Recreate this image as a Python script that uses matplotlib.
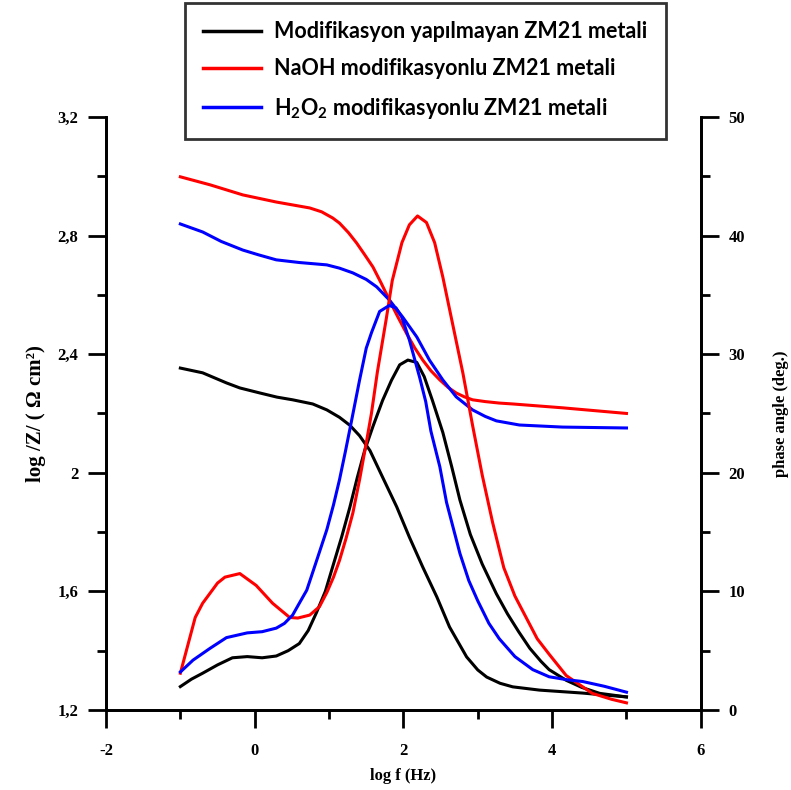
import matplotlib
matplotlib.use("Agg")
import matplotlib.pyplot as plt
from matplotlib.ticker import MultipleLocator, FuncFormatter

# log f values and readings
# --- |Z| curves (left axis)
z_black_f = [-1.0, -0.7, -0.38, -0.2, 0.07, 0.3, 0.51, 0.78, 0.97, 1.14, 1.28, 1.41, 1.55, 1.72,
             1.91, 2.08, 2.26, 2.45, 2.62, 2.85, 3.0, 3.12, 3.3, 3.47, 3.83, 4.41, 5.0]
z_black = [2.353, 2.337, 2.303, 2.286, 2.269, 2.255, 2.246, 2.232, 2.212, 2.187, 2.16, 2.125, 2.075, 1.985,
           1.885, 1.783, 1.682, 1.581, 1.48, 1.379, 1.335, 1.311, 1.29, 1.278, 1.267, 1.257, 1.244]

z_red_f = [-1.0, -0.6, -0.16, 0.29, 0.74, 0.9, 1.05, 1.14, 1.26, 1.37, 1.48, 1.59, 1.7, 1.81,
           1.92, 2.04, 2.15, 2.26, 2.37, 2.49, 2.6, 2.71, 2.82, 2.93, 3.1, 3.29, 3.47, 4.14, 5.0]
z_red = [2.998, 2.971, 2.937, 2.913, 2.893, 2.88, 2.859, 2.842, 2.81, 2.775, 2.735, 2.694, 2.64, 2.583,
         2.528, 2.471, 2.422, 2.38, 2.344, 2.313, 2.288, 2.269, 2.256, 2.246, 2.24, 2.235, 2.232, 2.219, 2.20]

z_blue_f = [-1.0, -0.7, -0.45, -0.16, 0.05, 0.29, 0.6, 0.97, 1.14, 1.32, 1.5, 1.64, 1.81, 1.99,
            2.18, 2.35, 2.53, 2.71, 2.93, 3.1, 3.25, 3.56, 4.14, 5.0]
z_blue = [2.839, 2.812, 2.78, 2.751, 2.735, 2.718, 2.709, 2.701, 2.69, 2.674, 2.652, 2.627, 2.583, 2.525,
          2.458, 2.38, 2.313, 2.256, 2.212, 2.19, 2.175, 2.161, 2.154, 2.151]

# --- phase angle curves (right axis)
p_black_f = [-1.0, -0.85, -0.7, -0.5, -0.3, -0.1, 0.1, 0.29, 0.45, 0.6, 0.72, 0.83, 0.95, 1.05,
             1.17, 1.28, 1.38, 1.48, 1.59, 1.72, 1.84, 1.95, 2.06, 2.18, 2.28, 2.39, 2.53, 2.65,
             2.76, 2.9, 3.06, 3.25, 3.4, 3.55, 3.7, 3.85, 3.96, 4.19, 4.4, 4.64, 5.0]
p_black = [1.97, 2.6, 3.1, 3.8, 4.4, 4.5, 4.4, 4.55, 5.0, 5.6, 6.7, 8.2, 10.0, 12.1,
           14.6, 17.1, 19.6, 21.9, 23.9, 26.1, 27.8, 29.1, 29.5, 29.3, 28.1, 26.1, 23.4, 20.5,
           17.7, 14.8, 12.3, 9.8, 8.1, 6.6, 5.2, 4.1, 3.4, 2.5, 1.9, 1.4, 1.1]

p_red_f = [-1.0, -0.8, -0.7, -0.5, -0.4, -0.2, 0.02, 0.24, 0.47, 0.58, 0.74, 0.87, 0.97, 1.06,
           1.14, 1.23, 1.32, 1.41, 1.5, 1.57, 1.65, 1.77, 1.85, 1.98, 2.08, 2.19, 2.31, 2.42,
           2.53, 2.66, 2.8, 2.93, 3.06, 3.2, 3.35, 3.5, 3.65, 3.8, 3.96, 4.19, 4.54, 4.8, 5.0]
p_red = [3.1, 7.8, 9.0, 10.7, 11.2, 11.5, 10.5, 9.0, 7.8, 7.75, 8.0, 8.7, 9.9, 11.2,
         12.6, 14.5, 16.6, 19.4, 22.5, 25.0, 28.5, 33.0, 36.2, 39.4, 40.9, 41.65, 41.1, 39.4,
         36.5, 32.6, 28.4, 24.0, 19.8, 15.8, 12.0, 9.6, 7.8, 6.0, 4.7, 2.9, 1.4, 0.9, 0.6]

p_blue_f = [-1.0, -0.83, -0.6, -0.38, -0.1, 0.1, 0.29, 0.4, 0.51, 0.6, 0.7, 0.78, 0.87, 0.97,
            1.06, 1.14, 1.22, 1.3, 1.41, 1.5, 1.57, 1.68, 1.81, 1.9, 1.98, 2.08, 2.22, 2.3,
            2.37, 2.49, 2.58, 2.76, 2.88, 3.0, 3.15, 3.29, 3.5, 3.74, 3.96, 4.2, 4.41, 4.7, 5.0]
p_blue = [3.2, 4.2, 5.2, 6.1, 6.5, 6.6, 6.9, 7.3, 8.0, 9.0, 10.1, 11.6, 13.3, 15.2,
          17.3, 19.4, 21.8, 24.3, 27.8, 30.5, 31.8, 33.6, 34.1, 33.9, 33.1, 31.2, 28.0, 26.0,
          23.5, 20.5, 17.5, 13.2, 10.9, 9.2, 7.3, 6.0, 4.5, 3.4, 2.8, 2.55, 2.4, 2.0, 1.5]

labels = ["Modifikasyon yapılmayan ZM21 metali",
          "NaOH modifikasyonlu ZM21 metali",
          "H$_2$O$_2$ modifikasyonlu ZM21 metali"]

plt.rcParams["mathtext.fontset"] = "custom"
plt.rcParams["mathtext.rm"] = "Lato:bold"
plt.rcParams["mathtext.default"] = "rm"
plt.rcParams["axes.unicode_minus"] = False

serif = "Liberation Serif"
lw = 2.2

fig = plt.figure(figsize=(7.91, 7.90), dpi=100)
ax = fig.add_axes([0.134, 0.1013, 0.752, 0.7507])
ax2 = ax.twinx()

l1, = ax.plot(z_black_f, z_black, color="black", lw=lw, label=labels[0])
l2, = ax.plot(z_red_f, z_red, color="red", lw=lw, label=labels[1])
l3, = ax.plot(z_blue_f, z_blue, color="blue", lw=lw, label=labels[2])
ax2.plot(p_black_f, p_black, color="black", lw=lw)
ax2.plot(p_red_f, p_red, color="red", lw=lw)
ax2.plot(p_blue_f, p_blue, color="blue", lw=lw)

ax.set_xlim(-2, 6)
ax.set_ylim(1.2, 3.2)
ax2.set_ylim(0, 50)

ax.xaxis.set_major_locator(MultipleLocator(2))
ax.xaxis.set_minor_locator(MultipleLocator(1))
ax.yaxis.set_major_locator(MultipleLocator(0.4))
ax.yaxis.set_minor_locator(MultipleLocator(0.2))
ax2.yaxis.set_major_locator(MultipleLocator(10))
ax2.yaxis.set_minor_locator(MultipleLocator(5))
ax.yaxis.set_major_formatter(FuncFormatter(lambda v, p: f"{v:g}".replace(".", ",")))

for a in (ax, ax2):
    a.spines["top"].set_visible(False)
    for s in a.spines.values():
        s.set_linewidth(2)
    a.tick_params(which="major", length=13, width=2, direction="out", pad=7)
    a.tick_params(which="minor", length=6.5, width=2, direction="out")
    for t in a.get_xticklabels() + a.get_yticklabels():
        t.set_fontfamily(serif)
        t.set_fontweight("bold")
        t.set_fontsize(12)
ax.tick_params(axis="x", which="major", pad=11)

ax.set_xlabel("log f (Hz)", fontfamily=serif, fontweight="bold", fontsize=12, labelpad=6)
ax.set_ylabel("log /Z/ ( Ω cm²)", fontfamily=serif, fontweight="bold", fontsize=15, labelpad=8)
ax2.set_ylabel("phase angle (deg.)", fontfamily=serif, fontweight="bold", fontsize=12, labelpad=20)

leg = fig.legend(handles=[l1, l2, l3], loc="upper left", bbox_to_anchor=(185 / 791, 1 - 3 / 790),
                 prop={"family": "Lato", "weight": "bold", "size": 15.5},
                 frameon=True, fancybox=False, borderpad=0.85, labelspacing=0.75,
                 handlelength=2.7, handletextpad=0.6, borderaxespad=0)
leg.get_frame().set_edgecolor("black")
leg.get_frame().set_linewidth(2)
for h in leg.get_lines():
    h.set_linewidth(2.5)

fig.savefig("out.png", dpi=100)
